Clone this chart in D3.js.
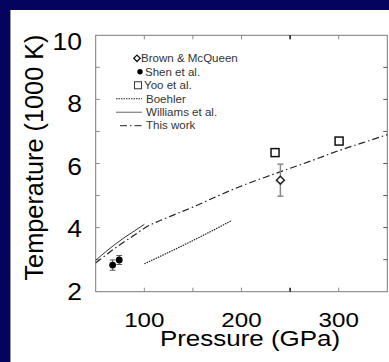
<!DOCTYPE html>
<html>
<head>
<meta charset="utf-8">
<script src="https://cdn.jsdelivr.net/npm/d3@7"></script>
<style>
  body { margin: 0; background: #04045e; }
  svg { display: block; }
  text { font-family: "Liberation Sans", Arial, sans-serif; }
</style>
</head>
<body>
<svg id="chart" width="389" height="362"></svg>
<script>
// series (pressure GPa, temperature 1000 K)
const thisWork = [[50, 2.9], [60, 3.13], [70, 3.36], [80, 3.57], [90, 3.77], [100, 3.98], [125, 4.33],
    [150, 4.64], [175, 4.98], [200, 5.3], [225, 5.58], [250, 5.85], [275, 6.12], [300, 6.4], [325, 6.65], [350, 6.9]];
const williams = [[50, 2.98], [60, 3.24], [70, 3.48], [80, 3.7], [90, 3.9], [100, 4.1]];
const boehler = [[100, 2.87], [145, 3.52], [190, 4.22]];
const shen = [{ p: 67.4, t: 2.83, dt: 0.16, dp: 3 }, { p: 74.2, t: 2.99, dt: 0.14, dp: 3 }];
const yoo = [{ p: 234.5, t: 6.34 }, { p: 300.4, t: 6.7 }];
const brown = [{ p: 240, t: 5.48, dt: 0.5 }];

const xTicks = [100, 200, 300];
const xMinor = [100, 150, 200, 250, 300];
const yTicks = [2, 4, 6, 8, 10];
const yMinor = [3, 4, 5, 6, 7, 8, 9];

const legendItems = [
    { label: 'Brown & McQueen', kind: 'diamond' },
    { label: 'Shen et al.', kind: 'circle' },
    { label: 'Yoo et al.', kind: 'square' },
    { label: 'Boehler', kind: 'dotted' },
    { label: 'Williams et al.', kind: 'solid' },
    { label: 'This work', kind: 'dashdot' }
];

// the source picture is stretched sideways a little
const stretch = 1.15;

const svg = d3.select('#chart');
svg.append('rect').attr('x', 10).attr('y', 10).attr('width', 379).attr('height', 352).attr('fill', '#fff');
svg.append('line').attr('x1', 10.5).attr('x2', 10.5).attr('y1', 10).attr('y2', 362).attr('stroke', '#999');

const x = d3.scaleLinear().domain([50, 350]).range([95.7, 387.3]);
const y = d3.scaleLinear().domain([2, 10]).range([291.7, 35.3]);
// tick labels in the picture sit on a slightly tighter spacing than the ticks
const yLab = d3.scaleLinear().domain([2, 10]).range([291.5, 41.5]);

const g = svg.append('g');

// frame
g.append('rect')
    .attr('x', x(50)).attr('y', y(10))
    .attr('width', x(350) - x(50)).attr('height', y(2) - y(10))
    .attr('fill', 'none').attr('stroke', '#7a7a7a').attr('stroke-width', 1);

// inner ticks
const tickLen = 4;
xMinor.forEach(v => {
    const c = v === 250 ? '#111' : '#888';
    const w = v === 250 ? 1.5 : 1;
    g.append('line').attr('x1', x(v)).attr('x2', x(v)).attr('y1', y(2)).attr('y2', y(2) - tickLen).attr('stroke', c).attr('stroke-width', w);
    g.append('line').attr('x1', x(v)).attr('x2', x(v)).attr('y1', y(10)).attr('y2', y(10) + tickLen).attr('stroke', c).attr('stroke-width', w);
});
yMinor.forEach(v => {
    g.append('line').attr('x1', x(50)).attr('x2', x(50) + tickLen).attr('y1', y(v)).attr('y2', y(v)).attr('stroke', '#888');
    g.append('line').attr('x1', x(350)).attr('x2', x(350) - tickLen).attr('y1', y(v)).attr('y2', y(v)).attr('stroke', '#555');
});

// tick labels
g.selectAll('.xl').data(xTicks).join('text')
    .attr('transform', d => `translate(${x(d)},327) scale(${stretch},1)`)
    .attr('text-anchor', 'middle').attr('font-size', 21).attr('fill', '#000')
    .text(d => d);
g.selectAll('.yl').data(yTicks).join('text')
    .attr('transform', d => `translate(82,${yLab(d)}) scale(${stretch},1)`)
    .attr('dy', '0.36em')
    .attr('text-anchor', 'end').attr('font-size', 23).attr('fill', '#000')
    .text(d => d);

// axis titles
g.append('text').attr('transform', `translate(250,345.5) scale(1.18,1)`).attr('text-anchor', 'middle')
    .attr('font-size', 22).text('Pressure (GPa)');
g.append('text').attr('transform', 'translate(43,157.5) rotate(-90)').attr('text-anchor', 'middle')
    .attr('font-size', 25.3).text('Temperature (1000 K)');

// curves
const line = d3.line().x(d => x(d[0])).y(d => y(d[1])).curve(d3.curveMonotoneX);
g.append('path').datum(williams).attr('d', line).attr('fill', 'none').attr('stroke', '#333').attr('stroke-width', 1);
g.append('path').datum(thisWork).attr('d', line).attr('fill', 'none').attr('stroke', '#222')
    .attr('stroke-width', 1.2).attr('stroke-dasharray', '7,3,1.5,3');
g.append('path').datum(boehler).attr('d', line).attr('fill', 'none').attr('stroke', '#222')
    .attr('stroke-width', 1.2).attr('stroke-dasharray', '1.5,1');

// Shen et al. with error bars
const shenG = g.append('g');
shen.forEach(d => {
    shenG.append('line').attr('x1', x(d.p)).attr('x2', x(d.p)).attr('y1', y(d.t - d.dt)).attr('y2', y(d.t + d.dt)).attr('stroke', '#555');
    shenG.append('line').attr('x1', x(d.p - d.dp)).attr('x2', x(d.p + d.dp)).attr('y1', y(d.t - d.dt)).attr('y2', y(d.t - d.dt)).attr('stroke', '#555');
    shenG.append('line').attr('x1', x(d.p - d.dp)).attr('x2', x(d.p + d.dp)).attr('y1', y(d.t + d.dt)).attr('y2', y(d.t + d.dt)).attr('stroke', '#555');
    shenG.append('line').attr('x1', x(d.p - d.dp)).attr('x2', x(d.p + d.dp)).attr('y1', y(d.t)).attr('y2', y(d.t)).attr('stroke', '#555');
    shenG.append('circle').attr('cx', x(d.p)).attr('cy', y(d.t)).attr('r', 3.4).attr('fill', '#000');
});

// Brown & McQueen with error bar
brown.forEach(d => {
    g.append('line').attr('x1', x(d.p)).attr('x2', x(d.p)).attr('y1', y(d.t - d.dt)).attr('y2', y(d.t + d.dt)).attr('stroke', '#888').attr('stroke-width', 1.5);
    [d.t - d.dt, d.t + d.dt].forEach(t => {
        g.append('line').attr('x1', x(d.p) - 3).attr('x2', x(d.p) + 3).attr('y1', y(t)).attr('y2', y(t)).attr('stroke', '#888').attr('stroke-width', 1.5);
    });
    g.append('path').attr('d', d3.symbol(d3.symbolDiamond2, 40)())
        .attr('transform', `translate(${x(d.p)},${y(d.t)})`)
        .attr('fill', '#fff').attr('stroke', '#222').attr('stroke-width', 1.5);
});

// Yoo et al. squares
g.selectAll('.yoo').data(yoo).join('rect')
    .attr('x', d => x(d.p) - 4).attr('y', d => y(d.t) - 4)
    .attr('width', 8).attr('height', 8)
    .attr('fill', '#fff').attr('stroke', '#111').attr('stroke-width', 1.5);

// legend
const legY = d3.scalePoint().domain(legendItems.map(d => d.label)).range([58.3, 125.7]);
legendItems.forEach(item => {
    const ly = legY(item.label);
    let tx = 146;
    if (item.kind === 'diamond') {
        g.append('path').attr('d', d3.symbol(d3.symbolDiamond2, 26)()).attr('transform', `translate(137,${ly})`)
            .attr('fill', '#fff').attr('stroke', '#111').attr('stroke-width', 1.3);
        tx = 141;
    } else if (item.kind === 'circle') {
        g.append('circle').attr('cx', 140).attr('cy', ly).attr('r', 2.7).attr('fill', '#000');
        tx = 145;
    } else if (item.kind === 'square') {
        g.append('rect').attr('x', 134.5).attr('y', ly - 3.5).attr('width', 7).attr('height', 7)
            .attr('fill', '#fff').attr('stroke', '#333').attr('stroke-width', 1);
        tx = 144;
    } else {
        const x1 = item.kind === 'dashdot' ? 120 : 116;
        const ln = g.append('line').attr('x1', x1).attr('x2', 142).attr('y1', ly).attr('y2', ly)
            .attr('stroke', item.kind === 'solid' ? '#666' : '#222').attr('stroke-width', 1);
        if (item.kind === 'dotted') ln.attr('stroke-dasharray', '1.5,1');
        if (item.kind === 'dashdot') ln.attr('stroke-dasharray', '7,3,1.5,3');
    }
    g.append('text').attr('transform', `translate(${tx},${ly}) scale(1.1,1)`).attr('dy', '0.36em')
        .attr('font-size', 10.5).attr('fill', '#333')
        .text(item.label);
});
</script>
</body>
</html>
